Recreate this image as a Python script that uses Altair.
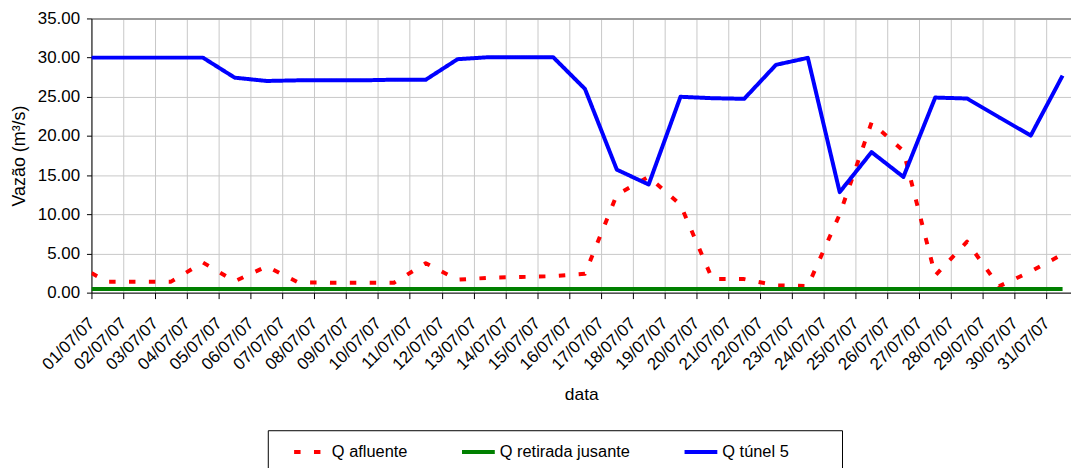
import json
import pandas as pd
import altair as alt

# ---- data ----
DAYS = [0, 0.5, 1.5, 2.5, 3.5, 4.5, 5.5, 6.5, 7.5, 8.5, 9.5, 10.5, 11.5, 12.5, 13.5, 14.5,
        15.5, 16.5, 17.5, 18.5, 19.5, 20.5, 21.5, 22.5, 23.5, 24.5, 25.5, 26.5, 27.5, 28.5,
        29.5, 30.5]

LABELS = ["01/07/07", "02/07/07", "03/07/07", "04/07/07", "05/07/07", "06/07/07", "07/07/07",
          "08/07/07", "09/07/07", "10/07/07", "11/07/07", "12/07/07", "13/07/07", "14/07/07",
          "15/07/07", "16/07/07", "17/07/07", "18/07/07", "19/07/07", "20/07/07", "21/07/07",
          "22/07/07", "23/07/07", "24/07/07", "25/07/07", "26/07/07", "27/07/07", "28/07/07",
          "29/07/07", "30/07/07", "31/07/07"]
TICK_DAYS = [0, 1, 2, 3, 4, 5, 6, 7, 8, 9, 10, 11, 12, 13, 14, 15, 16, 17, 18, 19, 20,
             21, 22, 23, 24, 25, 26, 27, 28, 29, 30]

Q_AFLUENTE = [2.5, 1.4, 1.4, 1.4, 3.85, 1.45, 3.35, 1.3, 1.27, 1.27, 1.27, 3.75, 1.65, 1.9,
              2.0, 2.1, 2.4, 12.5, 14.8, 11.2, 1.73, 1.73, 0.93, 0.85, 10.0, 21.7, 18.1,
              2.2, 6.5, 0.8, 2.7, 4.9]
Q_RETIRADA = [0.46, 0.46, 0.46, 0.46, 0.46, 0.46, 0.46, 0.46, 0.46, 0.46, 0.46, 0.46, 0.46,
              0.46, 0.46, 0.46, 0.46, 0.46, 0.46, 0.46, 0.46, 0.46, 0.46, 0.46, 0.46, 0.46,
              0.46, 0.46, 0.46, 0.46, 0.46, 0.46]
Q_TUNEL = [30.0, 30.0, 30.0, 30.0, 30.0, 27.44, 27.02, 27.1, 27.1, 27.1, 27.18, 27.18, 29.8,
           30.06, 30.06, 30.06, 26.0, 15.7, 13.8, 25.0, 24.82, 24.74, 29.08, 29.97, 12.83,
           17.94, 14.77, 24.9, 24.78, 22.4, 20.05, 27.7]

SERIES = ["Q afluente", "Q retirada jusante", "Q túnel 5"]
COLORS = ["#FF0000", "#008000", "#0000FF"]
Y_TICKS = [0, 5, 10, 15, 20, 25, 30, 35]

rows = []
for name, vals in zip(SERIES, [Q_AFLUENTE, Q_RETIRADA, Q_TUNEL]):
    for d, v in zip(DAYS, vals):
        rows.append({"dia": d, "vazao": v, "serie": name})
df = pd.DataFrame(rows)

W, H = 986, 276
XMAX = W / 32.05
FONT = "Liberation Sans"

legend = alt.Legend(
    orient="none", legendX=202, legendY=418, direction="horizontal", title=None,
    padding=0,
    symbolType="stroke", symbolSize=1089, symbolStrokeWidth=4,
    labelFontSize=16.5, labelFont=FONT, labelColor="black",
    columnPadding=46, labelOffset=3, labelLimit=0,
)

grid_color = {"condition": {"test": "datum.value === 35", "value": "#9A9A9A"}, "value": "#C8C8C8"}
grid_width = {"condition": {"test": "datum.value === 35", "value": 2}, "value": 1}

lines = alt.Chart(df).mark_line(strokeWidth=4, strokeJoin="round", clip=True).encode(
    x=alt.X(
        "dia:Q",
        scale=alt.Scale(domain=[0, XMAX], nice=False, zero=False),
        axis=alt.Axis(
            values=TICK_DAYS,
            labelExpr=json.dumps(LABELS) + "[datum.value]",
            labelAngle=-45, labelAlign="right", labelBaseline="middle",
            labelPadding=22, labelOverlap=False, labelFlush=False, labelBound=False,
            tickSize=6, title="data", titleY=103, titleBaseline="middle", titleFontSize=17.5,
            grid=True, gridColor="#C8C8C8",
        ),
    ),
    y=alt.Y(
        "vazao:Q",
        scale=alt.Scale(domain=[0, 35], nice=False),
        axis=alt.Axis(
            values=Y_TICKS, format=".2f", title="Vazão (m³/s)",
            titleX=-72, titleY=H / 2, titleAngle=270, titleBaseline="middle", titleAlign="center",
            titleFontSize=18,
            tickSize=5, labelPadding=7, grid=True,
            gridColor=grid_color, gridWidth=grid_width,
        ),
    ),
    color=alt.Color("serie:N", scale=alt.Scale(domain=SERIES, range=COLORS), legend=legend),
    strokeDash=alt.StrokeDash(
        "serie:N",
        scale=alt.Scale(domain=SERIES, range=[[6.5, 13.5], [1, 0], [1, 0]]),
        legend=legend,
    ),
)

# frame of the legend box (decoration, not data)
legend_box = alt.Chart(alt.Data(values=[{}])).mark_rect(
    fill="white", stroke="black", strokeWidth=1
).encode(
    x=alt.value(178), x2=alt.value(756), y=alt.value(415), y2=alt.value(520)
)

chart = alt.layer(lines, legend_box).properties(
    width=W, height=H,
    padding={"left": 84, "top": 9, "right": 0, "bottom": 175},
    autosize=alt.AutoSizeParams(type="none"),
).configure(
    font=FONT,
).configure_view(
    stroke=None,
).configure_axis(
    labelFont=FONT, titleFont=FONT, labelFontSize=17, titleFontSize=17,
    labelColor="black", titleColor="black", titleFontWeight="normal",
    domainColor="black", tickColor="black", domainWidth=1, tickWidth=1,
)

chart.save("out.html", embed_options={"renderer": "svg", "actions": False})
